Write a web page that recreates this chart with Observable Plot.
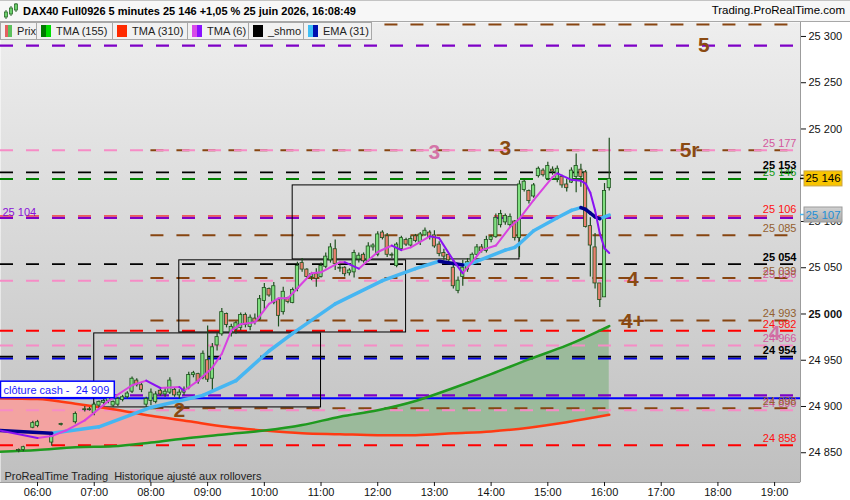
<!DOCTYPE html>
<html><head><meta charset="utf-8">
<script src="https://cdn.jsdelivr.net/npm/d3@7"></script>
<script src="https://cdn.jsdelivr.net/npm/@observablehq/plot@0.6"></script>
<style>
body{margin:0;background:#fff;font-family:"Liberation Sans",Arial,sans-serif;}
#wrap{position:relative;width:850px;height:500px;overflow:hidden;}
#title{position:relative;height:20px;border-top:1px solid #c4c4c4;border-bottom:1px solid #a8a8a8;background:#f7f7f7;font-size:11px;}
#title .t{position:absolute;left:23px;top:4px;font-weight:bold;color:#000;}
#title .r{position:absolute;right:5px;top:3px;font-size:11.5px;color:#000;}
#legend{position:absolute;left:0;top:22px;display:flex;height:18px;}
#legend .it{box-sizing:border-box;height:18px;border:1px solid #a8a8a8;border-left:none;background:#f1f1f1;font-size:11px;color:#222;display:flex;align-items:center;padding-left:4px;}
#legend .ic{display:inline-block;width:10px;height:12px;margin-right:5px;}
#chart svg{display:block;}
</style></head><body>
<div id="wrap">
  <div id="title">
    <svg width="16" height="18" style="position:absolute;left:3px;top:1px">
      <line x1="3" y1="8" x2="3" y2="17" stroke="#2a6a2a"/><rect x="1.5" y="10" width="3" height="5" fill="#6cd06c" stroke="#2a6a2a" stroke-width=".8"/>
      <line x1="8" y1="4" x2="8" y2="14" stroke="#2a6a2a"/><rect x="6.5" y="6" width="3" height="6" fill="#6cd06c" stroke="#2a6a2a" stroke-width=".8"/>
      <line x1="13" y1="1" x2="13" y2="10" stroke="#2a6a2a"/><rect x="11.5" y="2" width="3" height="6" fill="#6cd06c" stroke="#2a6a2a" stroke-width=".8"/>
    </svg>
    <span class="t">DAX40 Full0926 5 minutes 25 146 +1,05 % 25 juin 2026, 16:08:49</span>
    <span class="r">Trading.ProRealTime.com</span>
  </div>
  <div id="chart"></div>
  <div id="legend">
    <div class="it" style="width:37px;border-left:1px solid #a8a8a8"><span class="ic" style="background:linear-gradient(90deg,#e46060 50%,#5cc05c 50%)"></span>Prix</div>
    <div class="it" style="width:76px"><span class="ic" style="background:linear-gradient(90deg,#007a00 50%,#00dd00 50%)"></span>TMA (155)</div>
    <div class="it" style="width:75px"><span class="ic" style="background:#ff2a00"></span>TMA (310)</div>
    <div class="it" style="width:61px"><span class="ic" style="background:linear-gradient(90deg,#d84ae8 50%,#8a10ff 50%)"></span>TMA (6)</div>
    <div class="it" style="width:55px"><span class="ic" style="background:#000"></span>_shmo</div>
    <div class="it" style="width:68px"><span class="ic" style="background:linear-gradient(90deg,#40bff5 50%,#0010b0 50%)"></span>EMA (31)</div>
  </div>
</div>
<script>
// ---------- DATA ----------
const candleTimes = ["05:40","05:45","05:55","06:00","06:15","06:25","06:40","06:50","06:55","07:00","07:05","07:10","07:15","07:20","07:25","07:30","07:35","07:40","07:45","07:50","07:55","08:00","08:05","08:10","08:15","08:20","08:25","08:30","08:35","08:40","08:45","08:50","08:55","09:00","09:05","09:10","09:15","09:20","09:25","09:30","09:35","09:40","09:45","09:50","09:55","10:00","10:05","10:10","10:15","10:20","10:25","10:30","10:35","10:40","10:45","10:50","10:55","11:00","11:05","11:10","11:15","11:20","11:25","11:30","11:35","11:40","11:45","11:50","11:55","12:00","12:05","12:10","12:15","12:20","12:25","12:30","12:35","12:40","12:45","12:50","12:55","13:00","13:05","13:10","13:15","13:20","13:25","13:30","13:35","13:40","13:45","13:50","13:55","14:00","14:05","14:10","14:15","14:20","14:25","14:30","14:35","14:40","14:45","14:50","14:55","15:00","15:05","15:10","15:15","15:20","15:25","15:30","15:35","15:40","15:45","15:50","15:55","16:00","16:05"];
const opens  = [24852,24853,24877,24879,24861,24880,24883,24897,24896,24893,24901,24904,24906,24901,24902,24907,24910,24916,24928,24923,24902,24906,24905,24917,24913,24915,24918,24912,24915,24920,24934,24935,24931,24950,24930,24966,24978,25000,24979,24983,24985,24999,24986,24995,24994,25014,25027,25012,25015,25002,25017,25012,25027,25055,25048,25040,25043,25040,25051,25058,25070,25050,25050,25044,25045,25059,25064,25057,25072,25064,25088,25084,25064,25052,25070,25080,25074,25084,25078,25085,25088,25085,25075,25066,25064,25050,25025,25040,25048,25055,25064,25072,25068,25080,25083,25096,25099,25096,25100,25082,25134,25133,25127,25149,25155,25146,25156,25146,25148,25140,25142,25148,25156,25153,25095,25072,25033,25018,25136];
const highs  = [24854,24857,24884,24885,24870,24882,24894,24900,24899,24904,24906,24908,24912,24906,24910,24912,24916,24932,24930,24926,24910,24919,24916,24919,24920,24931,24920,24918,24921,24937,24938,24936,24960,24987,24968,24979,25006,25001,24989,24992,25001,25001,24999,25000,25020,25033,25028,25034,25017,25029,25018,25028,25056,25060,25049,25045,25049,25055,25066,25076,25080,25053,25051,25049,25069,25066,25066,25077,25076,25089,25090,25087,25066,25077,25084,25082,25084,25086,25088,25093,25090,25090,25078,25070,25065,25057,25040,25058,25060,25066,25075,25075,25084,25085,25108,25112,25108,25108,25101,25144,25145,25134,25141,25159,25157,25164,25159,25160,25150,25146,25158,25173,25162,25155,25104,25087,25033,25141,25190];
const lows   = [24850,24851,24876,24877,24857,24879,24881,24894,24895,24890,24897,24900,24903,24899,24900,24905,24908,24914,24921,24915,24899,24901,24903,24911,24910,24913,24910,24908,24912,24918,24931,24924,24929,24926,24915,24960,24976,24985,24975,24978,24982,24985,24982,24988,24993,25004,25018,25010,24986,24999,25011,25011,25024,25045,25038,25036,25029,25039,25049,25055,25047,25045,25040,25041,25039,25055,25055,25056,25068,25062,25080,25061,25060,25050,25068,25073,25071,25077,25074,25084,25080,25071,25062,25058,25057,25027,25022,25030,25045,25053,25062,25066,25066,25077,25082,25093,25096,25093,25079,25061,25132,25119,25125,25147,25148,25144,25150,25142,25136,25132,25141,25131,25137,25093,25040,25027,25007,25018,25133];
const closes = [24853,24856,24882,24883,24868,24881,24892,24896,24897,24902,24905,24906,24910,24905,24908,24910,24914,24930,24923,24918,24908,24915,24913,24913,24916,24928,24912,24915,24918,24934,24936,24927,24957,24929,24964,24975,25002,24988,24986,24990,24999,24988,24996,24991,25016,25028,25020,25030,24998,25024,25013,25026,25052,25048,25040,25043,25038,25052,25062,25072,25054,25049,25043,25047,25066,25063,25057,25073,25074,25086,25082,25064,25063,25075,25082,25075,25081,25079,25086,25090,25083,25073,25065,25062,25058,25030,25036,25050,25056,25064,25072,25068,25080,25083,25104,25108,25106,25105,25082,25140,25143,25122,25139,25157,25150,25160,25154,25157,25139,25136,25155,25160,25148,25094,25074,25033,25015,25133,25146];

const tma6Times  = ["05:20","06:00","06:15","06:30","06:50","07:15","07:40","07:55","08:10","08:30","08:35","08:50","09:05","09:15","09:25","09:35","09:50","10:05","10:15","10:25","10:50","11:00","11:20","11:25","11:40","12:00","12:15","12:25","12:35","12:55","13:05","13:20","13:30","13:50","14:05","14:20","14:30","14:45","15:05","15:10","15:25","15:35","15:40","15:45","15:50","15:55","16:00","16:05"];
const tma6Values = [24874,24866,24868,24874,24885,24906,24923,24928,24920,24921,24917,24928,24942,24957,24982,24989,24991,25011,25017,25017,25044,25045,25056,25056,25049,25067,25074,25069,25072,25084,25082,25058,25044,25069,25074,25094,25103,25123,25148,25152,25145,25144,25141,25131,25112,25087,25071,25066];

const emaTimes  = ["05:20","06:15","07:05","08:00","08:55","09:30","10:05","10:30","11:15","12:05","12:40","13:05","13:30","13:40","14:15","14:25","14:30","14:45","15:10","15:25","15:35","15:40","15:45","15:50","15:55","16:00","16:05"];
const emaValues = [24874,24871,24878,24899,24912,24928,24960,24979,25011,25036,25049,25057,25053,25055,25069,25072,25076,25090,25104,25112,25115,25113,25109,25105,25103,25105,25107];

const longTimes = ["05:20","06:00","06:40","07:20","08:00","08:40","09:20","10:00","10:40","11:20","12:00","12:40","13:20","14:00","14:40","15:20","16:05"];
const tma155 = [24851,24853,24856,24857,24861,24866,24870,24874,24880,24889,24896,24906,24920,24935,24951,24966,24987];
const tma310 = [24909,24908,24903,24897,24890,24884,24878,24874,24871,24870,24869,24869,24871,24873,24877,24883,24891];

const brownLevels  = [25313, 25177, 25085, 25039, 24993, 24898];
const brownLabels  = [25085, 25039, 24993, 24898];
const pinkLevels   = [25177, 25036, 24966, 24896];
const blackLevels  = [25153, 25054, 24954];
const greenLevels  = [25146];
const purpleLevels = [25290, 25104, 24912];
const redLevels    = [25106, 24982, 24858];
const blueLevels   = [24952];
const cashClose = 24909;
const leftLabel = 25104;

const boxStart = ["07:00","08:30","10:30"];
const boxEnd   = ["11:00","12:30","14:30"];
const boxLow   = [24899, 24980, 25059];
const boxHigh  = [24979, 25058, 25139];

const waveTimes  = ["17:45","17:30","14:15","16:30","16:30","08:30"];
const waveValues = [25290, 25177, 25179, 25038, 24992, 24896];
const waveTexts  = ["5","5r","3","4","4+","2"];
const pinkWaveTimes  = ["13:00","19:00"];
const pinkWaveValues = [25175, 24979];
const pinkWaveTexts  = ["3","4"];

const lastPrice = 25146;
const lastEma = 25107;

const yTicks = [24850,24900,24950,25000,25050,25100,25150,25200,25250,25300];
const xTickLabels = ["06:00","07:00","08:00","09:00","10:00","11:00","12:00","13:00","14:00","15:00","16:00","17:00","18:00","19:00"];
const footer = "ProRealTime Trading  Historique ajusté aux rollovers";
const cashText = "clôture cash - ";

// ---------- HELPERS ----------
const tm = s => +s.slice(0,2)*60 + +s.slice(3,5);
const fmtT = m => String(Math.floor(m/60)).padStart(2,"0") + ":" + String(Math.round(m%60)).padStart(2,"0");
const fmtV = v => { const s = String(Math.round(v)); return s.slice(0,-3) + " " + s.slice(-3); };

const xDomain = [320.8, 1167.4];
const yDomain = [24817.84, 25315.1];
const lineEnd = 1164.2;
const brownFrom = tm("08:00");

const bars = candleTimes.map((t,i) => ({t: tm(t), o: opens[i], h: highs[i], l: lows[i], c: closes[i]}));
const tma6 = tma6Times.map((t,i) => ({t: tm(t), v: tma6Values[i]}));
const ema = emaTimes.map((t,i) => ({t: tm(t), v: emaValues[i]}));
const longMA = longTimes.map((t,i) => ({t: tm(t), g: tma155[i], r: tma310[i]}));
const seg = arr => arr.slice(1).map((d,i) => ({x1: arr[i].t, y1: arr[i].v, x2: d.t, y2: d.v, up: d.v >= arr[i].v}));
const boxes = boxStart.map((s,i) => ({x1: tm(s), x2: tm(boxEnd[i]), y1: boxLow[i], y2: boxHigh[i]}));
const waves = waveTimes.map((t,i) => ({t: tm(t), v: waveValues[i], s: waveTexts[i]}));
const pinkWaves = pinkWaveTimes.map((t,i) => ({t: tm(t), v: pinkWaveValues[i], s: pinkWaveTexts[i]}));
const cross = tm("10:00");
const nearPurple = v => purpleLevels.some(p => Math.abs(p - v) < 4);

const dash = "13,13";
const fullRule = (vals, color, w=2) => Plot.ruleY(vals, {y: d => d, x1: xDomain[0], x2: lineEnd, stroke: color, strokeWidth: w, strokeDasharray: dash});
const levelLabel = (vals, color, weight="normal") => Plot.text(vals, {y: d => d, text: fmtV, frameAnchor: "right", dx: -4, dy: -3, textAnchor: "end", lineAnchor: "bottom", fill: color, fontSize: 11, fontWeight: weight});

const plot = Plot.plot({
  width: 850, height: 478,
  marginLeft: 0, marginRight: 50, marginTop: 0, marginBottom: 18,
  style: {background: "#fff", fontFamily: "'Liberation Sans', Arial, sans-serif", fontSize: "11px", color: "#111"},
  x: {domain: xDomain, axis: null},
  y: {domain: yDomain, axis: null},
  marks: [
    Plot.frame({fill: "url(#bgGrad)", stroke: "none"}),
    // long MA fills
    Plot.areaY(longMA, {filter: d => d.t <= cross, x: "t", y1: "r", y2: "g", fill: "#f3a3a1"}),
    Plot.areaY(longMA, {filter: d => d.t >= cross, x: "t", y1: "g", y2: "r", fill: "#9bba9b"}),
    // level lines
    Plot.ruleY(brownLevels, {y: d => d, x1: brownFrom, x2: lineEnd, stroke: "#874511", strokeWidth: 2, strokeDasharray: dash}),
    fullRule(pinkLevels, "#f68cc6"),
    fullRule(greenLevels, "#008000"),
    fullRule(redLevels.filter(v => !nearPurple(v)), "#ff0000"),
    fullRule(purpleLevels, "#7e00c6", 2.2),
    fullRule(redLevels.filter(nearPurple), "#ff0000", 1),
    fullRule(blueLevels, "#0000e6"),
    fullRule(blackLevels, "#000", 1.8),
    Plot.ruleY([cashClose], {stroke: "#0000ff", strokeWidth: 2}),
    // boxes
    Plot.rect(boxes, {x1: "x1", x2: "x2", y1: "y1", y2: "y2", fill: "none", stroke: "#000", strokeWidth: 1}),
    // long MAs
    Plot.line(longMA, {x: "t", y: "r", stroke: "#ff3a12", strokeWidth: 2.5, curve: "monotone-x"}),
    Plot.line(longMA, {x: "t", y: "g", stroke: "#1f9a1f", strokeWidth: 2.5, curve: "monotone-x"}),
    // candles
    Plot.ruleX(bars, {x: "t", y1: "l", y2: "h", stroke: "#1d4f1d", strokeWidth: 1.2}),
    Plot.rect(bars, {filter: d => d.c >= d.o, x1: d => d.t - 1.7, x2: d => d.t + 1.7, y1: "o", y2: "c", fill: "#7fdf7f", stroke: "#1d4f1d", strokeWidth: 0.8}),
    Plot.rect(bars, {filter: d => d.c < d.o, x1: d => d.t - 1.7, x2: d => d.t + 1.7, y1: "o", y2: "c", fill: "#e9806e", stroke: "#1d4f1d", strokeWidth: 0.8}),
    // EMA(31)
    Plot.link(seg(ema), {filter: d => d.up, x1: "x1", y1: "y1", x2: "x2", y2: "y2", stroke: "#46b6f2", strokeWidth: 3.5, strokeLinecap: "round"}),
    Plot.link(seg(ema), {filter: d => !d.up, x1: "x1", y1: "y1", x2: "x2", y2: "y2", stroke: "#00008c", strokeWidth: 3.5, strokeLinecap: "round"}),
    // TMA(6)
    Plot.link(seg(tma6), {filter: d => d.up, x1: "x1", y1: "y1", x2: "x2", y2: "y2", stroke: "#d842e0", strokeWidth: 2, strokeLinecap: "round"}),
    Plot.link(seg(tma6), {filter: d => !d.up, x1: "x1", y1: "y1", x2: "x2", y2: "y2", stroke: "#8a12f2", strokeWidth: 2, strokeLinecap: "round"}),
    // level labels
    levelLabel(pinkLevels, "#d4589e"),
    levelLabel(brownLabels, "#93602f"),
    levelLabel(greenLevels, "#119911"),
    levelLabel(redLevels, "#ff1010"),
    levelLabel(blackLevels, "#000", "bold"),
    Plot.text([leftLabel], {y: d => d, text: fmtV, frameAnchor: "left", dx: 2, dy: -2, textAnchor: "start", lineAnchor: "bottom", fill: "#8a10d8", fontSize: 11}),
    // wave annotations
    Plot.text(waves, {x: "t", y: "v", text: "s", fill: "#8a4a12", fontSize: 21, fontWeight: "bold", lineAnchor: "middle"}),
    Plot.text(pinkWaves, {x: "t", y: "v", text: "s", fill: "#d2609e", fillOpacity: 0.85, fontSize: 21, fontWeight: "bold", lineAnchor: "middle"}),
    // footer
    Plot.text([footer], {text: d => d, frameAnchor: "bottom-left", dx: 4, dy: -3, textAnchor: "start", lineAnchor: "bottom", fill: "#222", fontSize: 11}),
    // cash close label
    Plot.text([cashClose], {y: d => d, text: d => cashText + "\u00a0" + fmtV(d), frameAnchor: "left", dx: 3, dy: -4, textAnchor: "start", lineAnchor: "bottom", fill: "#1a1aff", fontSize: 11}),
    // separators
    Plot.ruleX([xDomain[1]], {stroke: "#9c9c9c", strokeWidth: 1}),
    Plot.ruleY([yDomain[0]], {stroke: "#9c9c9c", strokeWidth: 1}),
    // axes
    Plot.axisY({anchor: "right", ticks: yTicks, tickFormat: fmtV, tickSize: 5, tickPadding: 3, fontSize: 11, color: "#111", label: null}),
    Plot.axisX({anchor: "bottom", ticks: xTickLabels.map(tm), tickFormat: fmtT, tickSize: 4, tickPadding: 2, fontSize: 11, color: "#111", label: null})
  ]
});

document.getElementById("chart").appendChild(plot);

// gradient background for the frame
const svg = d3.select(plot);
const defs = svg.insert("defs", ":first-child");
const grad = defs.append("linearGradient").attr("id", "bgGrad").attr("x1", 0).attr("y1", 0).attr("x2", 0).attr("y2", 1);
grad.append("stop").attr("offset", "0%").attr("stop-color", "#eeeeee");
grad.append("stop").attr("offset", "100%").attr("stop-color", "#bfbfbf");
const ggrad = defs.append("linearGradient").attr("id", "boxGrad").attr("x1", 0).attr("y1", 0).attr("x2", 0).attr("y2", 1);
ggrad.append("stop").attr("offset", "0%").attr("stop-color", "#d2d2d2");
ggrad.append("stop").attr("offset", "100%").attr("stop-color", "#a9a9a9");

svg.selectAll("text").filter(function(){ return this.textContent === "25 000"; }).attr("font-weight", "bold");

const ys = plot.scale("y");
function priceBox(v, fill, stroke, textColor, tickColor) {
  const y = ys.apply(v);
  svg.append("line").attr("x1", 800).attr("x2", 806).attr("y1", y).attr("y2", y).attr("stroke", tickColor).attr("stroke-width", 1.5);
  svg.append("rect").attr("x", 804).attr("y", y - 7.5).attr("width", 38).attr("height", 15).attr("fill", fill).attr("stroke", stroke);
  svg.append("text").attr("x", 823).attr("y", y + 4).attr("text-anchor", "middle").attr("fill", textColor).attr("font-size", 11.5).text(fmtV(v));
}
priceBox(lastPrice, "#f8c400", "#c9a64a", "#000", "#000");
priceBox(lastEma, "url(#boxGrad)", "#9a9a9a", "#1f8fd6", "#46b6f2");

// white box behind the "clôture cash" label, sized to its text
const yc = ys.apply(cashClose);
const cashTextNode = svg.selectAll("text").filter(function(){ return this.textContent.startsWith(cashText); }).node();
const cashG = cashTextNode ? cashTextNode.closest("g[aria-label]") || cashTextNode.parentNode : null;
let boxW = 112;
try { boxW = Math.max(108, cashTextNode.getBBox().width + 8); } catch (e) {}
svg.insert("rect", cashG ? () => cashG : null)
  .attr("x", 0.5).attr("y", yc - 16.5).attr("width", boxW).attr("height", 16.5)
  .attr("fill", "#fff").attr("stroke", "#0000ff").attr("stroke-width", 1.5);
</script>
</body></html>
